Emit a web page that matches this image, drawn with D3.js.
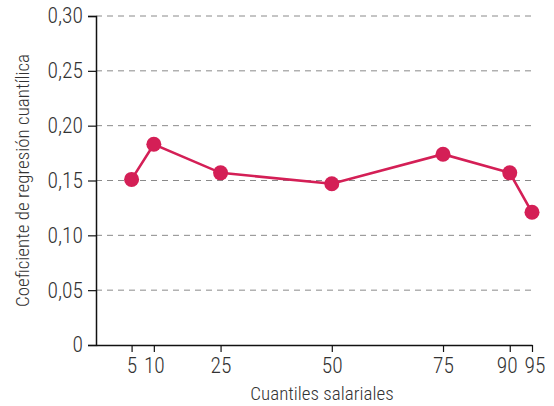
<!DOCTYPE html>
<html>
<head>
<meta charset="utf-8">
<script src="https://cdn.jsdelivr.net/npm/d3@7"></script>
<style>
  html, body { margin: 0; padding: 0; background: #fff; }
  svg { display: block; }
  text { font-family: "Liberation Sans Narrow", "Roboto Condensed", "DejaVu Sans Condensed", Roboto, sans-serif; font-weight: 300; }
</style>
</head>
<body>
<svg id="chart" width="554" height="406"></svg>
<script>
// Quantiles of the wage distribution and the regression coefficient at each one
const quantiles = [5, 10, 25, 50, 75, 90, 95];
const coefficients = [0.151, 0.183, 0.157, 0.147, 0.174, 0.157, 0.121];
const yTicks = [0, 0.05, 0.10, 0.15, 0.20, 0.25, 0.30];
const xLabel = "Cuantiles salariales";
const yLabel = "Coeficiente de regresión cuantílica";

const svg = d3.select("#chart");
const margin = { left: 96, right: 22, top: 16, bottom: 61 };
const W = 554, H = 406;

const x = d3.scaleLinear().domain([-3, 95]).range([margin.left, W - margin.right]);
const y = d3.scaleLinear().domain([0, 0.30]).range([H - margin.bottom, margin.top]);

const fmt = v => v === 0 ? "0" : d3.format(".2f")(v).replace(".", ",");
const textColor = "#333";

// dashed horizontal gridlines
svg.append("g")
  .selectAll("line")
  .data(yTicks.filter(v => v > 0))
  .join("line")
  .attr("x1", x(-3)).attr("x2", x(95))
  .attr("y1", d => y(d)).attr("y2", d => y(d))
  .attr("stroke", "#8a8a8a")
  .attr("stroke-width", 1)
  .attr("stroke-dasharray", "6,5");

// y axis
const yAxis = svg.append("g")
  .attr("transform", `translate(${margin.left},0)`)
  .call(d3.axisLeft(y).tickValues(yTicks).tickFormat(fmt).tickSize(8).tickPadding(5));
yAxis.select(".domain").attr("stroke", "#111").attr("stroke-width", 1.5);
yAxis.selectAll(".tick line").attr("stroke", "#111").attr("stroke-width", 1.2);
yAxis.selectAll("text").attr("font-size", 21.5).attr("fill", textColor);

// x axis
const xAxis = svg.append("g")
  .attr("transform", `translate(0,${y(0)})`)
  .call(d3.axisBottom(x).tickValues(quantiles).tickSize(7).tickSizeOuter(0).tickPadding(6));
xAxis.select(".domain").attr("stroke", "#111").attr("stroke-width", 1.5);
xAxis.selectAll(".tick line").attr("stroke", "#111").attr("stroke-width", 1.2);
xAxis.selectAll("text")
  .attr("font-size", 21.5)
  .attr("fill", textColor)
  // spread the two closely spaced labels at the right end apart
  .attr("dx", d => d === 90 ? -3 : d === 95 ? 2.5 : 0);

// axis titles
svg.append("text")
  .attr("x", 322).attr("y", 400)
  .attr("text-anchor", "middle")
  .attr("font-size", 19).attr("fill", textColor)
  .text(xLabel);

svg.append("text")
  .attr("transform", `translate(29,${(y(0) + y(0.30)) / 2}) rotate(-90)`)
  .attr("text-anchor", "middle")
  .attr("font-size", 19).attr("fill", textColor)
  .text(yLabel);

// series line and markers
const data = quantiles.map((q, i) => ({ q, v: coefficients[i] }));
const color = "#d41f56";

svg.append("path")
  .datum(data)
  .attr("fill", "none")
  .attr("stroke", color)
  .attr("stroke-width", 2.6)
  .attr("d", d3.line().x(d => x(d.q)).y(d => y(d.v)));

svg.append("g")
  .selectAll("circle")
  .data(data)
  .join("circle")
  .attr("cx", d => x(d.q))
  .attr("cy", d => y(d.v))
  .attr("r", 7.5)
  .attr("fill", color);
</script>
</body>
</html>
